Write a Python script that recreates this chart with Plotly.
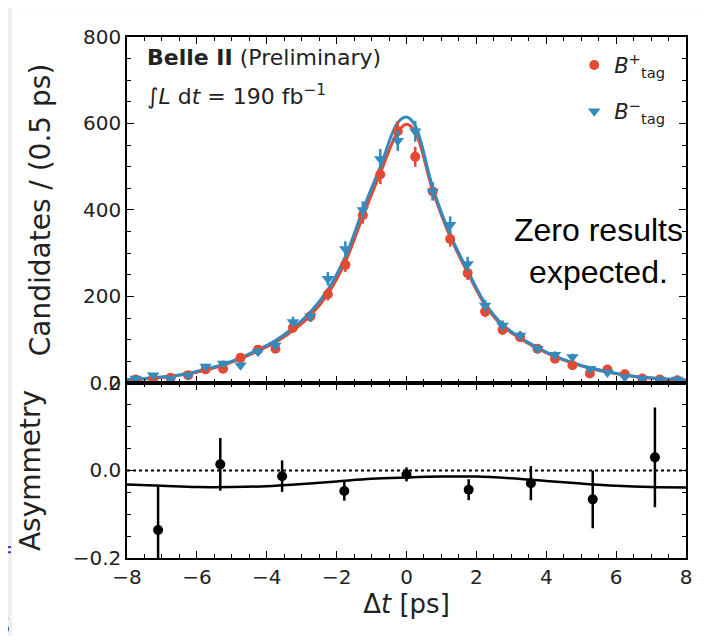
import plotly.graph_objects as go
from plotly.subplots import make_subplots

# Delta t bin centres (0.5 ps bins)
bin_centres = [-7.75, -7.25, -6.75, -6.25, -5.75, -5.25, -4.75, -4.25, -3.75, -3.25, -2.75,
               -2.25, -1.75, -1.25, -0.75, -0.25, 0.25, 0.75, 1.25, 1.75, 2.25, 2.75, 3.25,
               3.75, 4.25, 4.75, 5.25, 5.75, 6.25, 6.75, 7.25, 7.75]

# B+tag candidates (red) and B-tag candidates (blue)
plus_counts = [8, 10, 12, 18, 31, 33, 58, 77, 79, 128, 154, 205, 273, 388, 482, 582,
               523, 443, 333, 254, 165, 123, 106, 79, 56, 41, 22, 31, 20, 10, 8, 6]
plus_err = [2.8, 3.2, 3.5, 4.2, 5.6, 5.7, 7.6, 8.8, 8.9, 11.3, 12.4, 14.3, 16.5, 19.7, 22, 24,
            23, 21, 18, 16, 12.8, 11.1, 10.3, 8.9, 7.5, 6.4, 4.7, 5.6, 4.5, 3.2, 2.8, 2.4]
minus_counts = [10, 18, 10, 18, 38, 45, 41, 72, 87, 141, 154, 241, 310, 400, 518, 560,
                582, 443, 366, 275, 179, 133, 110, 79, 65, 60, 33, 24, 14, 10, 8, 8]
minus_err = [3.2, 4.2, 3.2, 4.2, 6.2, 6.7, 6.4, 8.5, 9.3, 11.9, 12.4, 15.5, 17.6, 20, 22.8, 23.7,
             24.1, 21, 19.1, 16.6, 13.4, 11.5, 10.5, 8.9, 8.1, 7.7, 5.7, 4.9, 3.7, 3.2, 2.8, 2.8]

# fitted curves
fit_x = [-8, -7.75, -7.25, -6.75, -6.25, -5.75, -5.25, -4.75, -4.25, -3.75, -3.25, -2.75,
         -2.25, -1.75, -1.25, -0.75, -0.25, 0, 0.25, 0.75, 1.25, 1.75, 2.25, 2.75, 3.25,
         3.75, 4.25, 4.75, 5.25, 5.75, 6.25, 6.75, 7.25, 7.75, 8]
plus_fit = [7, 8, 11, 15, 21, 30, 41, 56, 74, 94, 121, 156, 206, 280, 385, 485, 580, 598,
            580, 445, 338, 255, 180, 132, 103, 80, 61, 46, 34, 25, 18, 13, 9, 7, 6]
minus_fit = [8, 9, 12, 16, 22, 32, 43, 58, 77, 98, 127, 164, 216, 292, 400, 500, 602, 615,
             595, 452, 343, 260, 184, 135, 105, 82, 62, 47, 35, 26, 19, 13, 10, 8, 7]

# asymmetry panel
asym_x = [-7.11, -5.33, -3.56, -1.78, 0.0, 1.78, 3.56, 5.33, 7.11]
asym_y = [-0.136, 0.014, -0.013, -0.047, -0.009, -0.044, -0.029, -0.066, 0.030]
asym_err = [0.10, 0.06, 0.036, 0.022, 0.016, 0.024, 0.039, 0.066, 0.114]
asym_fit_x = [-8, -7, -6, -5, -4, -3, -2, -1, 0, 1, 2, 3, 4, 5, 6, 7, 8]
asym_fit_y = [-0.032, -0.035, -0.038, -0.038, -0.036, -0.031, -0.025, -0.019, -0.016,
              -0.014, -0.014, -0.018, -0.024, -0.030, -0.035, -0.038, -0.039]

x_ticks = [-8, -6, -4, -2, 0, 2, 4, 6, 8]
x_labels = ["−8", "−6", "−4", "−2", "0", "2", "4", "6", "8"]
y1_ticks = [0, 200, 400, 600, 800]
y2_ticks = [-0.2, 0.0, 0.2]
y2_labels = ["−0.2", "0.0", "0.2"]

RED = "#E24A33"
BLUE = "#348ABD"
FONT = "DejaVu Sans"

fig = make_subplots(rows=2, cols=1, shared_xaxes=True, vertical_spacing=0,
                    row_heights=[0.664, 0.336])

fig.add_trace(go.Scatter(x=fit_x, y=plus_fit, mode="lines", line=dict(color=RED, width=3, shape="spline"),
                         showlegend=False, hoverinfo="skip"), row=1, col=1)
fig.add_trace(go.Scatter(x=fit_x, y=minus_fit, mode="lines", line=dict(color=BLUE, width=3, shape="spline"),
                         showlegend=False, hoverinfo="skip"), row=1, col=1)
fig.add_trace(go.Scatter(x=bin_centres, y=plus_counts, mode="markers", name="<i>B</i><sup>+</sup><sub>tag</sub>",
                         marker=dict(color=RED, size=10, symbol="circle"),
                         error_y=dict(type="data", array=plus_err, color=RED, thickness=2.5, width=0),
                         legendgroup="p"), row=1, col=1)
fig.add_trace(go.Scatter(x=bin_centres, y=minus_counts, mode="markers", name="<i>B</i><sup>−</sup><sub>tag</sub>",
                         marker=dict(color=BLUE, size=11, symbol="triangle-down"),
                         error_y=dict(type="data", array=minus_err, color=BLUE, thickness=2.5, width=0),
                         legendgroup="m"), row=1, col=1)

fig.add_trace(go.Scatter(x=asym_fit_x, y=asym_fit_y, mode="lines", line=dict(color="black", width=2.5, shape="spline"),
                         showlegend=False), row=2, col=1)
fig.add_trace(go.Scatter(x=asym_x, y=asym_y, mode="markers", marker=dict(color="black", size=10),
                         error_y=dict(type="data", array=asym_err, color="black", thickness=2.5, width=0),
                         showlegend=False), row=2, col=1)

axis_common = dict(showline=True, linecolor="black", linewidth=1.5, mirror="ticks",
                   ticks="inside", ticklen=7, tickwidth=1.3, tickcolor="black",
                   showgrid=False, zeroline=False,
                   tickfont=dict(family=FONT, size=20, color="#222"))

fig.update_xaxes(**axis_common, range=[-8, 8], tickvals=x_ticks, ticktext=x_labels,
                 minor=dict(ticks="inside", dtick=0.5, ticklen=4, tickwidth=1, tickcolor="black"))
fig.update_xaxes(showticklabels=False, row=1, col=1)
fig.update_xaxes(title=dict(text="Δ<i>t</i> [ps]", font=dict(family=FONT, size=26, color="#222"), standoff=5),
                 row=2, col=1)

fig.update_yaxes(**axis_common)
fig.update_yaxes(range=[0, 800], tickvals=y1_ticks,
                 minor=dict(ticks="inside", dtick=50, ticklen=4, tickwidth=1, tickcolor="black"),
                 title=dict(text="Candidates / (0.5 ps)", font=dict(family=FONT, size=28, color="#222"), standoff=24),
                 row=1, col=1)
fig.update_yaxes(range=[-0.2, 0.2], tickvals=y2_ticks, ticktext=y2_labels,
                 minor=dict(ticks="inside", dtick=0.05, ticklen=4, tickwidth=1, tickcolor="black"),
                 title=dict(text="Asymmetry", font=dict(family=FONT, size=28, color="#222"), standoff=24),
                 row=2, col=1)

# dotted zero line in the asymmetry panel
fig.add_shape(type="line", xref="x2", yref="y2", x0=-8, x1=8, y0=0, y1=0,
              line=dict(color="black", width=2, dash="dot"))

# screenshot leftovers around the figure
fig.add_shape(type="rect", xref="paper", yref="paper", x0=-0.2272, x1=-0.2057, y0=-0.17, y1=1.08,
              fillcolor="#efefef", line=dict(width=0), layer="below")
fig.add_shape(type="rect", xref="paper", yref="paper", x0=-0.2272, x1=1.06, y0=1.055, y1=1.08,
              fillcolor="#f2f2f2", line=dict(width=0), layer="below")
for yy in [0.021, 0.011]:
    fig.add_shape(type="line", xref="paper", yref="paper", x0=-0.2272, x1=-0.2075, y0=yy, y1=yy,
                  line=dict(color="#3a3ad0", width=2))

fig.add_annotation(xref="paper", yref="paper", x=0.032, y=0.96, xanchor="left", yanchor="middle",
                   text="<b>Belle II</b> (Preliminary)", showarrow=False,
                   font=dict(family=FONT, size=22, color="#222"))
fig.add_annotation(xref="paper", yref="paper", x=0.032, y=0.889, xanchor="left", yanchor="middle",
                   text="∫<i>L</i> d<i>t</i> = 190 fb<sup>−1</sup>", showarrow=False,
                   font=dict(family=FONT, size=22, color="#222"))
fig.add_annotation(xref="paper", yref="paper", x=0.844, y=0.589, xanchor="center", yanchor="middle",
                   text="Zero results<br>expected.", showarrow=False, align="center",
                   font=dict(family="Liberation Sans", size=32, color="black"))
fig.add_annotation(xref="paper", yref="paper", x=-0.2057, y=-0.123, xanchor="right", yanchor="middle",
                   text="s", showarrow=False, font=dict(family="Liberation Sans", size=38, color="black"))

# the page body adds an 8 px margin, so the figure is 16 px smaller and margins 8 px less
fig.update_layout(
    width=699, height=628,
    margin=dict(l=119, r=21, t=29, b=78),
    paper_bgcolor="white", plot_bgcolor="white",
    font=dict(family=FONT, color="#222"),
    legend=dict(x=0.80, y=0.985, xanchor="left", yanchor="top", bgcolor="rgba(0,0,0,0)",
                font=dict(family=FONT, size=21, color="#222"), tracegroupgap=16),
)

fig.write_html("out.html")
